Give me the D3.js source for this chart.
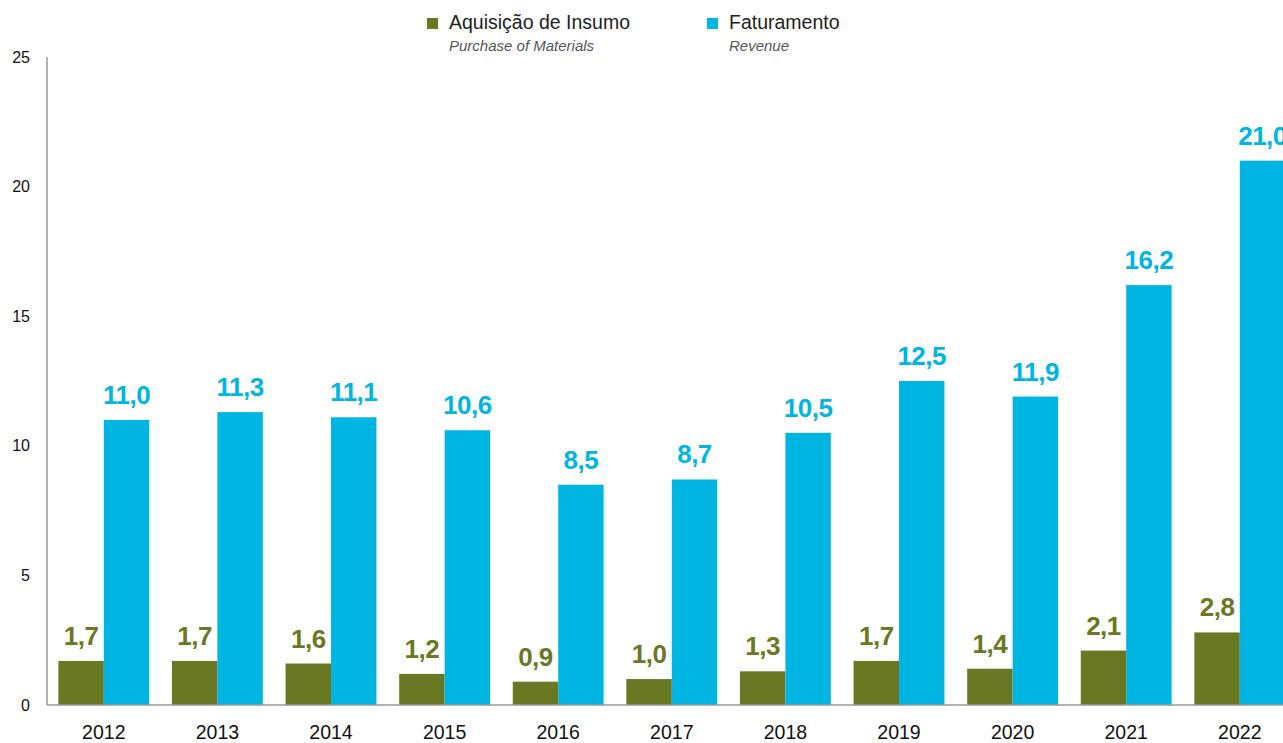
<!DOCTYPE html>
<html>
<head>
<meta charset="utf-8">
<script src="https://cdn.jsdelivr.net/npm/d3@7"></script>
<style>
    body { margin: 0; background: #fff; }
    #chart { width: 1283px; height: 743px; overflow: hidden; }
    text { font-family: 'Liberation Sans', Arial, sans-serif; }
</style>
</head>
<body>
<div id="chart"></div>
<script>
//Datos
const anos = ['2012', '2013', '2014', '2015', '2016', '2017', '2018', '2019', '2020', '2021', '2022'];
const insumo = [1.7, 1.7, 1.6, 1.2, 0.9, 1.0, 1.3, 1.7, 1.4, 2.1, 2.8];
const faturamento = [11.0, 11.3, 11.1, 10.6, 8.5, 8.7, 10.5, 12.5, 11.9, 16.2, 21.0];
const yTicks = [0, 5, 10, 15, 20, 25];
const series = [
    { key: 'insumo', nome: 'Aquisição de Insumo', sub: 'Purchase of Materials', valores: insumo },
    { key: 'faturamento', nome: 'Faturamento', sub: 'Revenue', valores: faturamento }
];

//Colores fijos
const COLOR_GREEN = '#6b7823',
COLOR_BLUE = '#00b5e2';
const colores = { insumo: COLOR_GREEN, faturamento: COLOR_BLUE };

let margin = {top: 57, right: 0, bottom: 38, left: 47},
    width = 1283 - margin.left - margin.right,
    height = 743 - margin.top - margin.bottom;

let svg = d3.select('#chart')
    .append('svg')
        .attr('width', 1283)
        .attr('height', 743)
    .append('g')
        .attr('transform', 'translate(' + margin.left + ',' + margin.top + ')');

//Escalas (la última columna queda cortada por el borde)
let x = d3.scaleBand()
    .domain(anos)
    .range([0, 113.6 * anos.length])
    .paddingInner(0.2)
    .paddingOuter(0.1);

let xSub = d3.scaleBand()
    .domain(series.map(function(d) { return d.key; }))
    .range([0, x.bandwidth()]);

let y = d3.scaleLinear()
    .domain([0, 25])
    .range([height, 0]);

//Ejes
let xAxis = function(g) {
    g.call(d3.axisBottom(x).tickSize(0).tickPadding(20));
    g.call(function(g){ g.select('.domain').remove(); });
    g.selectAll('.tick text')
        .attr('font-size', '19.5px')
        .attr('font-family', "'Liberation Sans', Arial, sans-serif")
        .attr('fill', '#111');
}

svg.append('g')
    .attr('transform', 'translate(0,' + height + ')')
    .call(xAxis);

let yAxis = function(g) {
    g.call(d3.axisLeft(y).tickValues(yTicks).tickSize(0).tickPadding(17));
    g.call(function(g){ g.select('.domain').remove(); });
    g.selectAll('.tick text')
        .attr('font-size', '16px')
        .attr('font-family', "'Liberation Sans', Arial, sans-serif")
        .attr('fill', '#111');
}

svg.append('g')
    .call(yAxis);

//Barras
let grupos = svg.selectAll('.grupo')
    .data(anos)
    .enter()
    .append('g')
    .attr('class', 'grupo')
    .attr('transform', function(d) { return 'translate(' + x(d) + ',0)'; });

grupos.selectAll('rect')
    .data(function(d, i) {
        return series.map(function(s) { return { key: s.key, valor: s.valores[i] }; });
    })
    .enter()
    .append('rect')
    .attr('x', function(d) { return xSub(d.key); })
    .attr('y', function(d) { return y(d.valor); })
    .attr('width', xSub.bandwidth())
    .attr('height', function(d) { return height - y(d.valor); })
    .attr('fill', function(d) { return colores[d.key]; });

//Etiquetas de valor
grupos.selectAll('.valor')
    .data(function(d, i) {
        return series.map(function(s) { return { key: s.key, valor: s.valores[i] }; });
    })
    .enter()
    .append('text')
    .attr('class', 'valor')
    .attr('x', function(d) { return xSub(d.key) + xSub.bandwidth() / 2; })
    .attr('y', function(d) { return y(d.valor) - 16; })
    .attr('text-anchor', 'middle')
    .attr('font-size', '26px')
    .attr('font-weight', 'bold')
    .attr('letter-spacing', '-0.5px')
    .attr('fill', function(d) { return colores[d.key]; })
    .text(function(d) { return d.valor.toFixed(1).replace('.', ','); });

//Líneas de ejes
svg.append('line')
    .attr('x1', 0).attr('x2', 0)
    .attr('y1', 0).attr('y2', height)
    .attr('stroke', '#999')
    .attr('stroke-width', 1.5);

svg.append('line')
    .attr('x1', 0).attr('x2', width)
    .attr('y1', height).attr('y2', height)
    .attr('stroke', '#999')
    .attr('stroke-width', 1.5);

//Leyenda
let root = d3.select('#chart svg');
let legendX = [427, 707];

let legend = root.selectAll('.legend')
    .data(series)
    .enter()
    .append('g')
    .attr('class', 'legend')
    .attr('transform', function(d, i) { return 'translate(' + legendX[i] + ',0)'; });

legend.append('rect')
    .attr('x', 0)
    .attr('y', 18)
    .attr('width', 11)
    .attr('height', 11)
    .attr('fill', function(d) { return colores[d.key]; });

legend.append('text')
    .attr('x', 22)
    .attr('y', 29)
    .attr('font-size', '19.5px')
    .attr('fill', '#222')
    .text(function(d) { return d.nome; });

legend.append('text')
    .attr('x', 22)
    .attr('y', 51)
    .attr('font-size', '15px')
    .attr('font-style', 'italic')
    .attr('fill', '#555')
    .text(function(d) { return d.sub; });
</script>
</body>
</html>
